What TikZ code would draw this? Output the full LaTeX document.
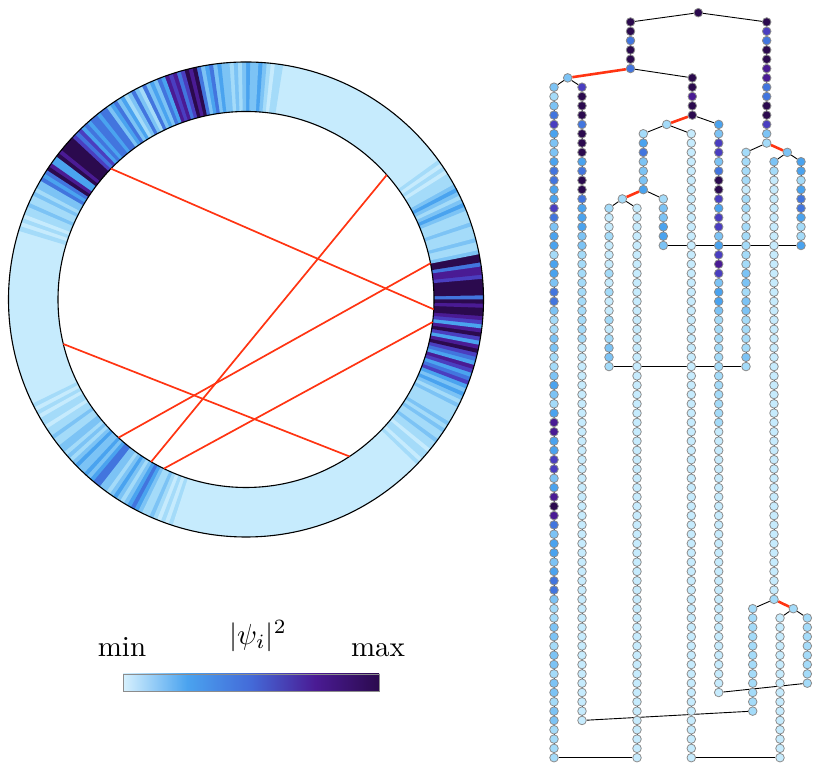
\documentclass[tikz,border=0pt]{standalone}
\usepackage{amsmath}
\usetikzlibrary{backgrounds}

\definecolor{lev0}{HTML}{C6EBFD}
\definecolor{lev1}{HTML}{A4DBF9}
\definecolor{lev2}{HTML}{7CC3F5}
\definecolor{lev3}{HTML}{4AA3EF}
\definecolor{lev4}{HTML}{4275DE}
\definecolor{lev5}{HTML}{4A3EC0}
\definecolor{lev6}{HTML}{4A1B94}
\definecolor{lev7}{HTML}{2B0A4E}
\definecolor{hopred}{HTML}{FF3412}
\definecolor{rimgray}{HTML}{8C8C8C}

% ring stripes: start angle, step, levels
\newcommand{\stripes}[3]{%
  \foreach \lv [count=\i from 0] in {#3} {
    \pgfmathsetmacro{\aa}{#1+\i*#2}
    \pgfmathsetmacro{\ab}{\aa+#2+0.2}
    \fill[lev\lv] (\aa:188) arc[start angle=\aa, end angle=\ab, radius=188]
      -- (\ab:237.5) arc[start angle=\ab, end angle=\aa, radius=237.5] -- cycle;
  }}
% column of sites: name, x, first row, levels
\newcommand{\chain}[4]{%
  \foreach \lv [count=\k from #3] in {#4}
    \node[dot, fill=lev\lv] (#1\k) at (#2,\k) {};}
% column of sites with one level: name, x, first row, last row, level
\newcommand{\siterun}[5]{%
  \foreach \k in {#3,...,#4}
    \node[dot, fill=lev#5] (#1\k) at (#2,\k) {};}
\newcommand{\bigtext}[1]{\scalebox{2.9}{#1}}

\begin{document}
\begin{tikzpicture}[x=1pt, y=1pt,
    dot/.style={circle, draw=rimgray, line width=0.8pt, minimum size=8.6pt, inner sep=0pt},
    bond/.style={black, line width=0.9pt},
    hop/.style={hopred, line width=2.6pt},
    chord/.style={hopred, line width=1.7pt},
    label/.style={inner sep=0pt}]
\useasboundingbox (0,0) rectangle (822,773);

% ring
\begin{scope}[shift={(246,473.5)}]
  \fill[lev0, even odd rule] (0,0) circle (237.5) (0,0) circle (188);
  \stripes{-45}{1}{0,1,0,1,1,0,1,1,2,1,1,2,1,2,1,
    1,1,1,2,1,2,3,2,3,5, 4,3,5,6,3,4,5,7,6,3, 5,7,6,3,5,6,7,7,6,7,
    4,7,7,7,7,5,6,6,4,7,7,2,
    1,1,2,1,1,1,2,1,1,1,2,3,2,1,2,3,2,1,1,1,0,1,0,1,0,0,0,0}
  \stripes{80}{1}{0,1,1,0,1,2, 3,2,2,3, 2,1,2,1,2,2, 3,2,4,3,2,4,
    7,6,7,5, 4,6,5,6,3,4, 2,3,2,4,1,2, 4,2,1,3,2,4, 3,2,4,4,3,4,
    4,3,4,3,5,4, 5,7,7, 7,7,6,7,3, 3,6,7,4, 3,4,2, 2,1,2,1,1,2,1, 1,0,1,0,1}
  \stripes{205}{1}{0,1,0,1,0,1,1,0, 1,1,2,1,1,2,2, 1,2,1,2,3,2,2,
    3,2,3,4,4,2,2, 1,2,3,2,1,2,3, 4,3,2,1,1, 2,1,0,1,0,1,0,0,0,0}
  \draw[line width=1.1pt] (0,0) circle (237.5);
  \draw[line width=1.1pt] (0,0) circle (188);
  \coordinate (s1a) at (135.9:188); \coordinate (s1b) at (-3.0:188);
  \coordinate (s2a) at (193.7:188); \coordinate (s2b) at (303.4:188);
  \coordinate (s3a) at (227.3:188); \coordinate (s3b) at (11.1:188);
  \coordinate (s4a) at (244.1:188); \coordinate (s4b) at (-6.9:188);
  \coordinate (s5a) at (239.7:188); \coordinate (s5b) at (41.5:188);
  \draw[chord] (s1a) -- (s1b);
  \draw[chord] (s2a) -- (s2b);
  \draw[chord] (s3a) -- (s3b);
  \draw[chord] (s4a) -- (s4b);
  \draw[chord] (s5a) -- (s5b);
\end{scope}

% colour bar
\shade[left color=lev0!70!white, right color=lev3] (123,82) rectangle (187.2,99);
\shade[left color=lev3, right color=lev4!80!lev5] (187,82) rectangle (251.2,99);
\shade[left color=lev4!80!lev5, right color=lev6] (251,82) rectangle (315.2,99);
\shade[left color=lev6, right color=lev7] (315,82) rectangle (379,99);
\draw[rimgray, line width=0.6pt] (123,82) rectangle (379,99);
\node[label, anchor=base] (minlbl) at (122,116) {\bigtext{min}};
\node[label, anchor=base] (maxlbl) at (378,116) {\bigtext{max}};
\node[label] (psilbl) at (258,137) {\bigtext{$|\psi_i|^2$}};

% tree
\begin{scope}[shift={(0,760.3)}, y=-9.3125pt]
  \node[dot, fill=lev7] (root) at (698.3,0) {};
  \chain{P}{630.5}{1}{7,7,4,7,7,4}
  \chain{Q}{766.7}{1}{7,5,4,7,7,6,6,4,4,7,7,5,2,1}
  \node[dot, fill=lev2] (fa) at (567.7,7) {};
  \chain{T}{692.3}{7}{7,7,6,7,7}
  \chain{A}{554}{8}{2,1,2,4,5,3,2,2,3,4,4,3,3,5,4,2,3,3,
    1,3,3,2,4,4,2,1,1,2,2,1,1,2,3,2,1,3, 6,6,3,3,5,5,2,3,
    6,7,6,4,2,3,3,2,3,4,4,2,1,1,2,2,1,2,2,1,2,2,1,2,2,1,1,1,1}
  \chain{B}{582}{8}{5,7,7,7,4,7,7,7,3,4,7,7,4,3,3,3,2,2}
  \siterun{B}{582}{26}{35}{1}
  \siterun{B}{582}{36}{76}{0}
  \node[dot, fill=lev1] (fb) at (666.7,12) {};
  \chain{H}{718.7}{12}{3,2,5,5,2,4,7,7,5,3,5,5,2,3,5,6,5,2,3,3,2}
  \siterun{H}{718.7}{33}{44}{1}
  \siterun{H}{718.7}{45}{73}{0}
  \chain{E}{643.3}{13}{1,3,4,2,2,2,3}
  \siterun{G}{691.3}{13}{80}{0}
  \node[dot, fill=lev1] (fc) at (622.3,20) {};
  \chain{F}{663.3}{20}{1,2,2,3,3,2}
  \chain{C}{609}{21}{1,0,0,1,0,0,0,1,0,1,0,0,1,0,1,2,2,1}
  \siterun{D}{637}{21}{80}{0}
  \node[dot, fill=lev2] (fd) at (787.3,15) {};
  \chain{I}{746}{15}{1,1,1,1,0,1,1,0,1,1,1,1,1,2,2,1,2,2,1,1,1,1,2,1}
  \chain{J}{774}{16}{2,1}
  \siterun{J}{774}{18}{62}{0}
  \chain{J}{774}{63}{1}
  \chain{K}{801}{16}{3,3,1,3,4,4,3,1,1,3}
  \node[dot, fill=lev1] (fe) at (793.3,64) {};
  \siterun{L}{752.7}{64}{75}{1}
  \siterun{M}{780}{65}{80}{0}
  \siterun{N}{807.3}{65}{72}{1}

  \begin{pgfonlayer}{background}
    \draw[bond] (root) -- (P1) (root) -- (Q1);
    \draw[bond] (P1) -- (P6) (Q1) -- (Q14) (T7) -- (T11);
    \draw[bond] (A8) -- (A80) (B8) -- (B76) (C21) -- (C38) (D21) -- (D80);
    \draw[bond] (E13) -- (E19) (F20) -- (F25) (G13) -- (G80) (H12) -- (H73);
    \draw[bond] (I15) -- (I38) (J16) -- (J63) (K16) -- (K25);
    \draw[bond] (L64) -- (L75) (M65) -- (M80) (N65) -- (N72);
    \draw[hop] (P6) -- (fa);
    \draw[bond] (P6) -- (T7);
    \draw[bond] (fa) -- (A8) (fa) -- (B8);
    \draw[hop] (T11) -- (fb);
    \draw[bond] (T11) -- (H12);
    \draw[bond] (fb) -- (E13) (fb) -- (G13);
    \draw[hop] (E19) -- (fc);
    \draw[bond] (E19) -- (F20);
    \draw[bond] (fc) -- (C21) (fc) -- (D21);
    \draw[hop] (Q14) -- (fd);
    \draw[bond] (Q14) -- (I15);
    \draw[bond] (fd) -- (J16) (fd) -- (K16);
    \draw[hop] (J63) -- (fe);
    \draw[bond] (J63) -- (L64);
    \draw[bond] (fe) -- (M65) (fe) -- (N65);
    % leaves joined
    \draw[bond] (A80) -- (D80);
    \draw[bond] (G80) -- (M80);
    \draw[bond] (B76) -- (L75);
    \draw[bond] (H73) -- (N72);
    \draw[bond] (C38) -- (I38);
    \draw[bond] (F25) -- (K25);
  \end{pgfonlayer}
\end{scope}
\end{tikzpicture}
\end{document}
